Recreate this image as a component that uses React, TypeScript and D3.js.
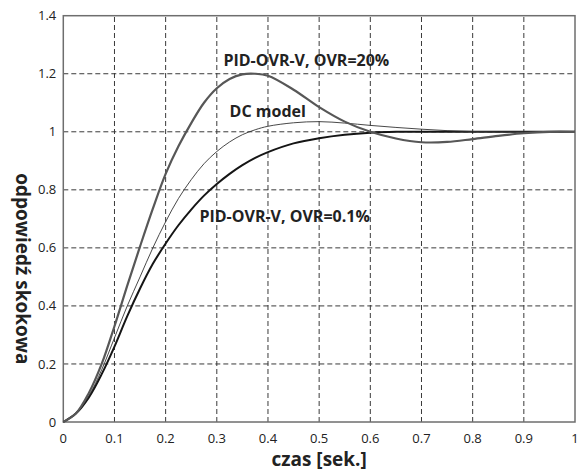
import * as React from "react";
import * as d3 from "d3";

const WIDTH = 580;
const HEIGHT = 472;

// time axis (seconds)
const timeS = [
  0, 0.025, 0.05, 0.075, 0.1, 0.125, 0.15, 0.175, 0.2, 0.225, 0.25, 0.275,
  0.3, 0.325, 0.35, 0.375, 0.4, 0.45, 0.5, 0.55, 0.6, 0.65, 0.7, 0.75, 0.8,
  0.85, 0.9, 0.95, 1.0,
];

const ovr20 = [
  0, 0.03, 0.1, 0.2, 0.33, 0.47, 0.605, 0.735, 0.855, 0.95, 1.03, 1.1,
  1.15, 1.182, 1.198, 1.2, 1.193, 1.145, 1.085, 1.035, 1.0, 0.977, 0.964,
  0.965, 0.975, 0.986, 0.995, 1.0, 1.0,
];

const dcModel = [
  0, 0.03, 0.09, 0.18, 0.29, 0.4, 0.5, 0.6, 0.69, 0.77, 0.835, 0.89,
  0.932, 0.965, 0.99, 1.007, 1.019, 1.031, 1.035, 1.03, 1.022, 1.015, 1.009,
  1.004, 1.001, 1.0, 1.0, 1.0, 1.0,
];

const ovr01 = [
  0, 0.03, 0.085, 0.165, 0.26, 0.365, 0.46, 0.545, 0.615, 0.678, 0.732, 0.78,
  0.82, 0.855, 0.885, 0.91, 0.93, 0.96, 0.978, 0.99, 0.997, 1.0, 1.0, 1.0,
  1.0, 1.0, 1.0, 1.0, 1.0,
];

const xTicks = [0, 0.1, 0.2, 0.3, 0.4, 0.5, 0.6, 0.7, 0.8, 0.9, 1];
const yTicks = [0, 0.2, 0.4, 0.6, 0.8, 1, 1.2, 1.4];

const FONT = "'Open Sans', 'DejaVu Sans', sans-serif";

export default function App() {
  const ref = React.useRef<SVGSVGElement>(null);

  React.useEffect(() => {
    const svg = d3.select(ref.current);
    svg.selectAll("*").remove();

    const margin = { top: 15.7, right: 5, bottom: 50, left: 63.3 };
    const x = d3.scaleLinear().domain([0, 1]).range([margin.left, WIDTH - margin.right]);
    const y = d3.scaleLinear().domain([0, 1.4]).range([HEIGHT - margin.bottom, margin.top]);

    svg.append("rect").attr("width", WIDTH).attr("height", HEIGHT).attr("fill", "#fff");

    // grid
    const grid = svg.append("g").attr("stroke", "#3a3a3a").attr("stroke-width", 1)
      .attr("stroke-dasharray", "5,3").attr("fill", "none");
    grid.selectAll("line.v").data(xTicks.slice(1, -1)).join("line")
      .attr("class", "v")
      .attr("x1", (d) => x(d)).attr("x2", (d) => x(d))
      .attr("y1", y(0)).attr("y2", y(1.4));
    grid.selectAll("line.h").data(yTicks.slice(1, -1)).join("line")
      .attr("class", "h")
      .attr("x1", x(0)).attr("x2", x(1))
      .attr("y1", (d) => y(d)).attr("y2", (d) => y(d));

    // frame
    svg.append("rect")
      .attr("x", x(0)).attr("y", y(1.4))
      .attr("width", x(1) - x(0)).attr("height", y(0) - y(1.4))
      .attr("fill", "none").attr("stroke", "#6e6e6e").attr("stroke-width", 1.5);

    // tick labels
    svg.append("g").selectAll("text").data(xTicks).join("text")
      .attr("x", (d) => x(d)).attr("y", y(0) + 21)
      .attr("text-anchor", "middle")
      .attr("font-family", FONT).attr("font-size", 13).attr("fill", "#222")
      .text((d) => String(d));
    svg.append("g").selectAll("text").data(yTicks).join("text")
      .attr("x", x(0) - 7).attr("y", (d) => y(d))
      .attr("dy", "0.35em")
      .attr("text-anchor", "end")
      .attr("font-family", FONT).attr("font-size", 13).attr("fill", "#222")
      .text((d) => String(d));

    // axis titles
    svg.append("text")
      .attr("x", (x(0) + x(1)) / 2).attr("y", HEIGHT - 6)
      .attr("text-anchor", "middle")
      .attr("font-family", FONT).attr("font-size", 19).attr("font-weight", "bold")
      .attr("fill", "#222")
      .text("czas [sek.]");
    svg.append("text")
      .attr("transform", `translate(16, ${(y(0) + y(1.4)) / 2 + 50}) rotate(90)`)
      .attr("text-anchor", "middle")
      .attr("font-family", FONT).attr("font-size", 19).attr("font-weight", "bold")
      .attr("fill", "#222")
      .text("odpowiedź skokowa");

    // curves
    const line = d3.line<number>()
      .x((_, i) => x(timeS[i]))
      .y((d) => y(d))
      .curve(d3.curveCatmullRom.alpha(0.5));

    const series = [
      { values: ovr01, color: "#151515", width: 2 },
      { values: dcModel, color: "#333", width: 0.9 },
      { values: ovr20, color: "#575757", width: 2.2 },
    ];
    svg.append("g").selectAll("path").data(series).join("path")
      .attr("d", (d) => line(d.values))
      .attr("fill", "none")
      .attr("stroke", (d) => d.color)
      .attr("stroke-width", (d) => d.width);

    // curve labels
    const labels = [
      { text: "PID-OVR-V, OVR=20%", t: 0.475, v: 1.228, anchor: "middle" },
      { text: "DC model", t: 0.325, v: 1.052, anchor: "start" },
      { text: "PID-OVR-V, OVR=0.1%", t: 0.266, v: 0.69, anchor: "start" },
    ];
    svg.append("g").selectAll("text").data(labels).join("text")
      .attr("x", (d) => x(d.t)).attr("y", (d) => y(d.v))
      .attr("text-anchor", (d) => d.anchor)
      .attr("font-family", FONT).attr("font-size", 16).attr("font-weight", "bold")
      .attr("fill", "#222")
      .text((d) => d.text);
  }, []);

  return (
    <svg
      ref={ref}
      width={WIDTH}
      height={HEIGHT}
      style={{ position: "absolute", left: 0, top: 0 }}
    />
  );
}
